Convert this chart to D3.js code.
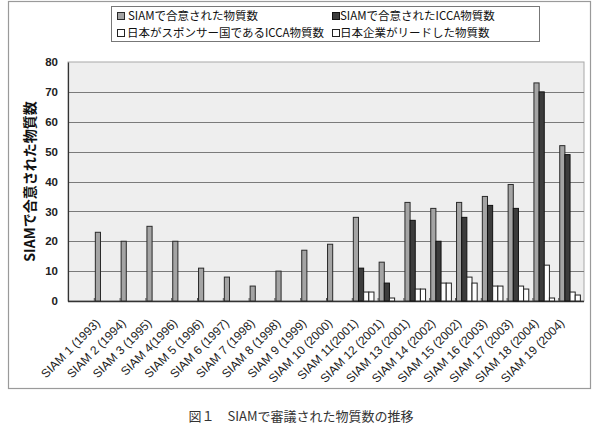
<!DOCTYPE html>
<html><head><meta charset="utf-8">
<script src="https://cdn.jsdelivr.net/npm/d3@7"></script>
<style>
html,body{margin:0;padding:0;background:#fff;}
svg{display:block;}
</style>
</head><body>
<svg id="chart" width="600" height="430"></svg>
<script>
const categories = ["SIAM 1 (1993)","SIAM 2 (1994)","SIAM 3 (1995)","SIAM 4(1996)","SIAM 5 (1996)","SIAM 6 (1997)","SIAM 7 (1998)","SIAM 8 (1998)","SIAM 9 (1999)","SIAM 10 (2000)","SIAM 11(2001)","SIAM 12 (2001)","SIAM 13 (2001)","SIAM 14 (2002)","SIAM 15 (2002)","SIAM 16 (2003)","SIAM 17 (2003)","SIAM 18 (2004)","SIAM 19 (2004)"];
const agreedSIAM   = [23,20,25,20,11,8,5,10,17,19,28,13,33,31,33,35,39,73,52];
const agreedICCA   = [0,0,0,0,0,0,0,0,0,0,11,6,27,20,28,32,31,70,49];
const japanSponsor = [0,0,0,0,0,0,0,0,0,0,3,1,4,6,8,5,5,12,3];
const japanLead    = [0,0,0,0,0,0,0,0,0,0,3,0,4,6,6,5,4,1,2];
const seriesNames = ["SIAMで合意された物質数","SIAMで合意されたICCA物質数","日本がスポンサー国であるICCA物質数","日本企業がリードした物質数"];
const yTicks = [0,10,20,30,40,50,60,70,80];
const yTitle = "SIAMで合意された物質数";
const caption = "図１　SIAMで審議された物質数の推移";

const seriesData = [agreedSIAM, agreedICCA, japanSponsor, japanLead];
const fills = ["#a4a4a4","#3c3c3c","#ffffff","#ffffff"];
const strokes = ["#2a2a2a","#111111","#222222","#222222"];
const latin = "'Liberation Sans', Arial, sans-serif";
const cjk = "'Noto Sans CJK JP', 'Noto Sans', sans-serif";

const svg = d3.select("#chart");
const plotLeft = 68, plotRight = 584, plotTop = 62, plotBottom = 301;

// outer frame
svg.append("rect").attr("x",8.5).attr("y",1.5).attr("width",582).attr("height",387)
  .attr("fill","#fff").attr("stroke","#9a9a9a").attr("stroke-width",1.2);

// scales
const step = (plotRight - plotLeft) / (categories.length + 1);
const x = d3.scaleBand().domain(categories).range([plotLeft + step, plotRight]).padding(0);
const bw = x.bandwidth();
const xs = d3.scaleBand().domain(d3.range(seriesData.length)).range([bw*0.04, bw*0.84]).padding(0);
const y = d3.scaleLinear().domain([0,80]).range([plotBottom, plotTop]);

// plot background
svg.append("rect").attr("x",plotLeft).attr("y",plotTop)
  .attr("width",plotRight-plotLeft).attr("height",plotBottom-plotTop)
  .attr("fill","#eeeeee").attr("stroke","#a8a8a8").attr("stroke-width",1);

// gridlines
svg.append("g").selectAll("line").data(yTicks.filter(t => t>0 && t<80)).join("line")
  .attr("x1",plotLeft).attr("x2",plotRight)
  .attr("y1",d=>Math.round(y(d))+0.5).attr("y2",d=>Math.round(y(d))+0.5)
  .attr("stroke","#7a7a7a").attr("stroke-width",1);

// y axis
const yAxis = svg.append("g").attr("transform",`translate(${plotLeft},0)`)
  .call(d3.axisLeft(y).tickValues(yTicks).tickSize(0).tickPadding(10));
yAxis.select(".domain").attr("stroke","#333").attr("stroke-width",1.2);
yAxis.selectAll("text").attr("font-family",latin).attr("font-size","11.5px").attr("fill","#222").attr("font-weight","bold");

// x axis
const xAxis = svg.append("g").attr("transform",`translate(0,${plotBottom})`)
  .call(d3.axisBottom(x).tickSize(0).tickFormat(""));
xAxis.select(".domain").remove();
svg.append("line").attr("x1",plotLeft).attr("x2",plotRight).attr("y1",plotBottom+0.5).attr("y2",plotBottom+0.5)
  .attr("stroke","#333").attr("stroke-width",1.3);
// small inner ticks at category boundaries
svg.append("g").selectAll("line").data(categories).join("line")
  .attr("x1",d=>x(d)+0.5).attr("x2",d=>x(d)+0.5)
  .attr("y1",plotBottom).attr("y2",plotBottom-3)
  .attr("stroke","#555").attr("stroke-width",1);
// rotated labels
svg.append("g").selectAll("text").data(categories).join("text")
  .attr("transform",d=>`translate(${x(d)+7},${plotBottom+23}) rotate(-45)`)
  .attr("text-anchor","end")
  .attr("font-family",latin).attr("font-size","12px").attr("fill","#222")
  .text(d=>d);

// bars
const groups = svg.append("g").selectAll("g").data(categories).join("g")
  .attr("transform",d=>`translate(${x(d)},0)`);
groups.selectAll("rect")
  .data((d,i)=>seriesData.map((s,k)=>({k, v:s[i]})).filter(e=>e.v>0))
  .join("rect")
  .attr("x",e=>xs(e.k)+0.5)
  .attr("width",xs.bandwidth())
  .attr("y",e=>y(e.v))
  .attr("height",e=>y(0)-y(e.v))
  .attr("fill",e=>fills[e.k])
  .attr("stroke",e=>strokes[e.k])
  .attr("stroke-width",1);

// y title
svg.append("text")
  .attr("transform",`translate(35,${(plotTop+plotBottom)/2}) rotate(-90)`)
  .attr("text-anchor","middle")
  .attr("font-family",cjk).attr("font-weight","bold").attr("font-size","14px").attr("fill","#111")
  .text(yTitle);

// legend
const legend = svg.append("g");
legend.append("rect").attr("x",111.5).attr("y",6.5).attr("width",428).attr("height",35)
  .attr("fill","#fff").attr("stroke","#777").attr("stroke-width",1);
const legPos = [[117,16],[332,16],[117,33],[332,33]];
const legTextX = [128,340,127,340];
seriesNames.forEach((name,k)=>{
  const [lx,ly] = legPos[k];
  legend.append("rect").attr("x",lx+0.5).attr("y",ly-3.5).attr("width",7).attr("height",7)
    .attr("fill",fills[k]).attr("stroke",strokes[k]).attr("stroke-width",1);
  legend.append("text").attr("x",legTextX[k]).attr("y",ly).attr("dy","0.36em")
    .attr("font-family",cjk).attr("font-size","11.5px").attr("fill","#111")
    .text(name);
});

// caption
svg.append("text").attr("x",301).attr("y",416).attr("dy","0.35em").attr("text-anchor","middle")
  .attr("font-family",cjk).attr("font-size","13px").attr("fill","#333")
  .text(caption);
</script>
</body></html>
